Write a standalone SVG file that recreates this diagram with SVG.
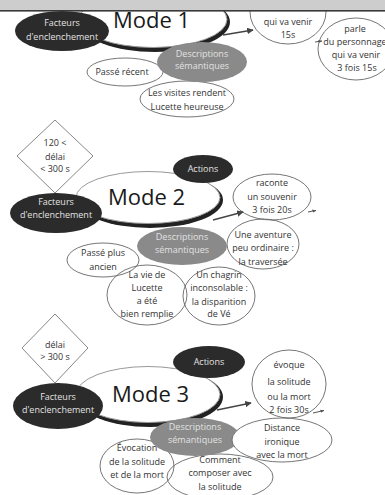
<svg xmlns="http://www.w3.org/2000/svg" width="385" height="495" viewBox="0 0 385 495">
  <style>
    .t { font-family: "Open Sans", "Liberation Sans", sans-serif; font-size: 9px; fill: #333; text-anchor: middle; }
    .tl { fill: #e2e2e2; }
    .mode { font-family: "Open Sans", "Liberation Sans", sans-serif; font-size: 22px; fill: #1a1a1a; }
    .dark { fill: #2b2b2b; }
    .sem { fill: #8a8a8a; }
    .ring-out { fill: #222; }
    .ring-in { fill: #fff; stroke: #999; stroke-width: 1; }
    .bubble { fill: none; stroke: #666; stroke-width: 0.9; }
    .bubble-w { fill: #fff; stroke: #666; stroke-width: 0.9; }
    .cond { fill: #fff; stroke: #888; stroke-width: 1; }
    .arrow { fill: none; stroke: #444; stroke-width: 1.3; marker-end: url(#head); }
    .tail { fill: none; stroke: #555; stroke-width: 1; marker-end: url(#head-s); }
  </style>
  <defs>
    <marker id="head" viewBox="0 0 10 10" refX="9" refY="5" markerWidth="5" markerHeight="5" orient="auto">
      <path d="M0,0 L10,5 L0,10 z" fill="#444"/>
    </marker>
    <marker id="head-s" viewBox="0 0 10 10" refX="9" refY="5" markerWidth="4" markerHeight="4" orient="auto">
      <path d="M0,1 L10,5 L0,9 z" fill="#555"/>
    </marker>
  </defs>
  <rect width="385" height="495" fill="#fff"/>

  <!-- ===== Mode 1 ===== -->
  <g id="m1-ring"><ellipse class="ring-out" cx="155" cy="22" rx="75" ry="30"/><ellipse class="ring-in" cx="153" cy="19.5" rx="74" ry="28"/></g>
  <g id="m1-title"><text class="mode" x="113" y="28">Mode 1</text></g>
  <g id="m1-passe"><ellipse class="bubble" cx="125" cy="72" rx="38" ry="14"/><text class="t" x="122" y="75">Passé récent</text></g>
  <g id="m1-visites"><ellipse class="bubble" cx="187" cy="99" rx="47" ry="18"/><text class="t" x="187" y="96">Les visites rendent</text><text class="t" x="187" y="110">Lucette heureuse</text></g>
  <g id="m1-facteurs"><ellipse class="dark" cx="62" cy="31" rx="47" ry="20"/><text class="t tl" x="62" y="26">Facteurs</text><text class="t tl" x="62" y="40">d'enclenchement</text></g>
  <g id="m1-desc"><ellipse class="sem" cx="202" cy="62" rx="45" ry="20"/><text class="t tl" x="202" y="57">Descriptions</text><text class="t tl" x="202" y="69">sémantiques</text></g>
  <g id="m1-action1"><ellipse class="bubble" cx="288" cy="12" rx="38" ry="32"/><text class="t" x="288" y="25">qui va venir</text><text class="t" x="288" y="38">15s</text></g>
  <g id="m1-action2"><ellipse class="bubble" cx="356" cy="49" rx="38" ry="31"/><text class="t" x="355" y="32">parle</text><text class="t" x="355" y="45">du personnage</text><text class="t" x="356" y="58">qui va venir</text><text class="t" x="357" y="71">3 fois 15s</text></g>

  <!-- ===== Mode 2 ===== -->
  <g id="m2-cond"><polygon class="cond" points="55,120 93,156 55,193 17,156"/><text class="t" x="55" y="146">120 &lt;</text><text class="t" x="55" y="160">délai</text><text class="t" x="55" y="172">&lt; 300 s</text></g>
  <g id="m2-ring"><ellipse class="ring-out" cx="150" cy="200" rx="73" ry="28"/><ellipse class="ring-in" cx="148" cy="197.5" rx="72" ry="26"/></g>
  <g id="m2-title"><text class="mode" x="108" y="205">Mode 2</text></g>
  <g id="m2-passe"><ellipse class="bubble" cx="103" cy="260" rx="36" ry="17"/><text class="t" x="103" y="256">Passé plus</text><text class="t" x="103" y="270">ancien</text></g>
  <g id="m2-vie"><ellipse class="bubble" cx="147" cy="295" rx="40" ry="30"/><text class="t" x="147" y="278">La vie de</text><text class="t" x="147" y="291">Lucette</text><text class="t" x="147" y="304">a été</text><text class="t" x="147" y="317">bien remplie</text></g>
  <g id="m2-chagrin"><ellipse class="bubble" cx="219" cy="296" rx="36" ry="29"/><text class="t" x="219" y="278">Un chagrin</text><text class="t" x="219" y="291">inconsolable :</text><text class="t" x="219" y="305">la disparition</text><text class="t" x="219" y="317">de Vé</text></g>
  <g id="m2-aventure"><ellipse class="bubble" cx="263" cy="244" rx="36" ry="25"/><text class="t" x="263" y="238">Une aventure</text><text class="t" x="263" y="251">peu ordinaire :</text><text class="t" x="263" y="265">la traversée</text></g>
  <g id="m2-facteurs"><ellipse class="dark" cx="56" cy="213" rx="46" ry="20"/><text class="t tl" x="56" y="205">Facteurs</text><text class="t tl" x="56" y="218">d'enclenchement</text></g>
  <g id="m2-actions"><ellipse class="dark" cx="203" cy="169" rx="30" ry="14"/><text class="t tl" x="203" y="172">Actions</text></g>
  <g id="m2-desc"><ellipse class="sem" cx="182" cy="246" rx="45" ry="19"/><text class="t tl" x="182" y="240">Descriptions</text><text class="t tl" x="182" y="253">sémantiques</text></g>
  <g id="m2-action1"><ellipse class="bubble" cx="272" cy="197" rx="39" ry="23"/><text class="t" x="272" y="186">raconte</text><text class="t" x="272" y="200">un souvenir</text><text class="t" x="272" y="213">3 fois 20s</text></g>

  <!-- ===== Mode 3 ===== -->
  <g id="m3-cond"><polygon class="cond" points="55,314 88,348 55,383 22,348"/><text class="t" x="55" y="348">délai</text><text class="t" x="55" y="360">&gt; 300 s</text></g>
  <g id="m3-ring"><ellipse class="ring-out" cx="150" cy="397" rx="73" ry="30"/><ellipse class="ring-in" cx="148" cy="394.5" rx="72" ry="28"/></g>
  <g id="m3-title"><text class="mode" x="112" y="402">Mode 3</text></g>
  <g id="m3-evocation"><ellipse class="bubble" cx="137" cy="466" rx="37" ry="27"/><text class="t" x="137" y="451">Évocation</text><text class="t" x="137" y="465">de la solitude</text><text class="t" x="137" y="478">et de la mort</text></g>
  <g id="m3-comment"><ellipse class="bubble" cx="220" cy="477" rx="53" ry="23"/><text class="t" x="220" y="463">Comment</text><text class="t" x="220" y="476">composer avec</text><text class="t" x="220" y="490">la solitude</text></g>
  <g id="m3-facteurs"><ellipse class="dark" cx="58" cy="406" rx="45" ry="23"/><text class="t tl" x="58" y="400">Facteurs</text><text class="t tl" x="58" y="413">d'enclenchement</text></g>
  <g id="m3-actions"><ellipse class="dark" cx="209" cy="362" rx="36" ry="16"/><text class="t tl" x="209" y="365">Actions</text></g>
  <g id="m3-desc"><ellipse class="sem" cx="195" cy="437" rx="45" ry="19"/><text class="t tl" x="195" y="430">Descriptions</text><text class="t tl" x="195" y="443">sémantiques</text></g>
  <g id="m3-distance"><ellipse class="bubble-w" cx="282" cy="440" rx="50" ry="22"/><text class="t" x="282" y="431">Distance</text><text class="t" x="282" y="445">ironique</text><text class="t" x="282" y="458">avec la mort</text></g>
  <g id="m3-action1"><ellipse class="bubble" cx="289" cy="384" rx="37" ry="34"/><text class="t" x="289" y="368">évoque</text><text class="t" x="289" y="385">la solitude</text><text class="t" x="289" y="400">ou la mort</text><text class="t" x="289" y="413">2 fois 30s</text></g>

  <!-- connectors -->
  <g id="connectors">
    <path class="arrow" d="M223,35 L253,30"/>
    <path class="tail" d="M315,42 L322,41"/>
    <path class="arrow" d="M213,220 L243,212"/>
    <path class="tail" d="M308,212 L316,210.5"/>
    <path class="arrow" d="M217,410 L251,403"/>
    <path class="tail" d="M313,413 L324,410.5"/>
  </g>

  <!-- window bar along the top edge -->
  <rect x="0" y="0" width="385" height="10" fill="#cdcdcd"/>
  <rect x="0" y="10" width="385" height="1.6" fill="#3a3a3a"/>
</svg>
